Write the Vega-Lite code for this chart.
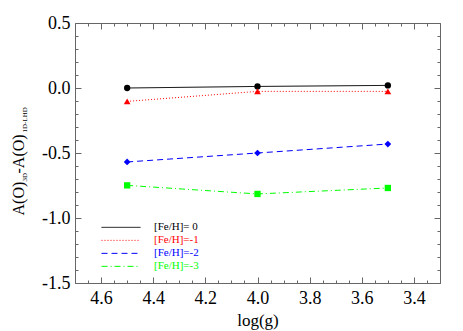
{
  "$schema": "https://vega.github.io/schema/vega-lite/v6.json",
  "width": 365,
  "height": 260,
  "autosize": {"type": "none"},
  "padding": {"left": 75, "top": 23, "right": 23, "bottom": 48},
  "background": "white",
  "config": {
    "view": {"stroke": null},
    "font": "Liberation Serif",
    "axis": {
      "grid": false,
      "domainColor": "#666666",
      "tickColor": "#666666",
      "labelColor": "black",
      "labelFontSize": 18,
      "labelFont": "Liberation Serif",
      "titleFont": "Liberation Serif",
      "titleFontWeight": "normal",
      "titleColor": "black",
      "labelOverlap": false,
      "labelFlush": false,
      "labelBound": false
    }
  },
  "data": {
    "values": [
      {"series": "[Fe/H]= 0", "logg": 4.5, "val": 0.0},
      {"series": "[Fe/H]= 0", "logg": 4.0, "val": 0.012},
      {"series": "[Fe/H]= 0", "logg": 3.5, "val": 0.02},
      {"series": "[Fe/H]=-1", "logg": 4.5, "val": -0.103},
      {"series": "[Fe/H]=-1", "logg": 4.0, "val": -0.026},
      {"series": "[Fe/H]=-1", "logg": 3.5, "val": -0.026},
      {"series": "[Fe/H]=-2", "logg": 4.5, "val": -0.569},
      {"series": "[Fe/H]=-2", "logg": 4.0, "val": -0.5},
      {"series": "[Fe/H]=-2", "logg": 3.5, "val": -0.431},
      {"series": "[Fe/H]=-3", "logg": 4.5, "val": -0.749},
      {"series": "[Fe/H]=-3", "logg": 4.0, "val": -0.815},
      {"series": "[Fe/H]=-3", "logg": 3.5, "val": -0.769}
    ]
  },
  "layer": [
    {
      "mark": {"type": "line", "strokeWidth": 1},
      "encoding": {
        "x": {
          "field": "logg", "type": "quantitative",
          "scale": {"domain": [3.3, 4.7], "reverse": true, "zero": false, "nice": false},
          "axis": {
            "orient": "bottom",
            "title": "log(g)",
            "titleFontSize": 17,
            "titlePadding": 2,
            "values": [3.3,3.35,3.4,3.45,3.5,3.55,3.6,3.65,3.7,3.75,3.8,3.85,3.9,3.95,4.0,4.05,4.1,4.15,4.2,4.25,4.3,4.35,4.4,4.45,4.5,4.55,4.6,4.65,4.7],
            "tickSize": {"condition": {"test": "abs(datum.value*5-round(datum.value*5))<0.001", "value": -6}, "value": -3},
            "labelPadding": 12,
            "labelExpr": "abs(datum.value*5-round(datum.value*5))<0.001 ? format(datum.value,'.1f') : ''"
          }
        },
        "y": {
          "field": "val", "type": "quantitative",
          "scale": {"domain": [-1.5, 0.5], "zero": false, "nice": false},
          "axis": {
            "orient": "left",
            "title": "A(O)",
            "titleFontSize": 16,
            "titleAngle": 270,
            "titleAlign": "left",
            "titleBaseline": "alphabetic",
            "titleX": -52,
            "titleY": 192,
            "values": [-1.5,-1.4,-1.3,-1.2,-1.1,-1.0,-0.9,-0.8,-0.7,-0.6,-0.5,-0.4,-0.3,-0.2,-0.1,0.0,0.1,0.2,0.3,0.4,0.5],
            "tickSize": {"condition": {"test": "abs(datum.value*2-round(datum.value*2))<0.001", "value": -6}, "value": -3},
            "labelPadding": 11,
            "labelExpr": "abs(datum.value*2-round(datum.value*2))<0.001 ? replace(format(datum.value,'.1f'),'\u2212','-') : ''"
          }
        },
        "color": {
          "field": "series", "type": "nominal",
          "scale": {
            "domain": ["[Fe/H]= 0", "[Fe/H]=-1", "[Fe/H]=-2", "[Fe/H]=-3"],
            "range": ["#000000", "#ff0000", "#0000ff", "#00ff00"]
          },
          "legend": {
            "orient": "none",
            "legendX": 26,
            "legendY": 198,
            "title": null,
            "symbolType": "stroke",
            "symbolSize": 1521,
            "symbolStrokeWidth": 1,
            "clipHeight": 12.7,
            "rowPadding": 0,
            "labelFont": "Liberation Serif",
            "labelFontSize": 11,
            "labelOffset": 13,
            "encode": {"labels": {"update": {"fill": {"scale": "color", "field": "value"}}}}
          }
        },
        "strokeDash": {
          "field": "series", "type": "nominal",
          "scale": {
            "domain": ["[Fe/H]= 0", "[Fe/H]=-1", "[Fe/H]=-2", "[Fe/H]=-3"],
            "range": [[1, 0], [1, 2], [6, 4], [6, 3, 1, 3]]
          },
          "legend": {
            "orient": "none",
            "legendX": 26,
            "legendY": 198,
            "title": null
          }
        }
      }
    },
    {
      "transform": [{"filter": "datum.series == '[Fe/H]= 0'"}],
      "mark": {"type": "point", "filled": true, "shape": "circle", "size": 40, "color": "#000000", "opacity": 1},
      "encoding": {
        "x": {
          "field": "logg", "type": "quantitative",
          "scale": {"domain": [3.3, 4.7], "reverse": true, "zero": false, "nice": false},
          "axis": {
            "orient": "top",
            "title": null,
            "labels": false,
            "values": [3.3,3.35,3.4,3.45,3.5,3.55,3.6,3.65,3.7,3.75,3.8,3.85,3.9,3.95,4.0,4.05,4.1,4.15,4.2,4.25,4.3,4.35,4.4,4.45,4.5,4.55,4.6,4.65,4.7],
            "tickSize": {"condition": {"test": "abs(datum.value*5-round(datum.value*5))<0.001", "value": -6}, "value": -3}
          }
        },
        "y": {
          "field": "val", "type": "quantitative",
          "scale": {"domain": [-1.5, 0.5], "zero": false, "nice": false},
          "axis": {
            "orient": "right",
            "title": null,
            "labels": false,
            "values": [-1.5,-1.4,-1.3,-1.2,-1.1,-1.0,-0.9,-0.8,-0.7,-0.6,-0.5,-0.4,-0.3,-0.2,-0.1,0.0,0.1,0.2,0.3,0.4,0.5],
            "tickSize": {"condition": {"test": "abs(datum.value*2-round(datum.value*2))<0.001", "value": -6}, "value": -3}
          }
        }
      }
    },
    {
      "transform": [{"filter": "datum.series == '[Fe/H]=-1'"}],
      "mark": {"type": "point", "filled": true, "shape": "triangle-up", "size": 45, "color": "#ff0000", "opacity": 1},
      "encoding": {
        "x": {
          "field": "logg", "type": "quantitative",
          "scale": {"domain": [3.3, 4.7], "reverse": true, "zero": false, "nice": false},
          "axis": null
        },
        "y": {
          "field": "val", "type": "quantitative",
          "scale": {"domain": [-1.5, 0.5], "zero": false, "nice": false},
          "axis": {
            "orient": "left",
            "title": "3D",
            "labels": false, "ticks": false, "domain": false,
            "titleFontSize": 7,
            "titleAngle": 270,
            "titleAlign": "left",
            "titleBaseline": "alphabetic",
            "titleX": -49,
            "titleY": 158
          }
        }
      }
    },
    {
      "transform": [{"filter": "datum.series == '[Fe/H]=-2'"}],
      "mark": {"type": "point", "filled": true, "shape": "diamond", "size": 45, "color": "#0000ff", "opacity": 1},
      "encoding": {
        "x": {
          "field": "logg", "type": "quantitative",
          "scale": {"domain": [3.3, 4.7], "reverse": true, "zero": false, "nice": false},
          "axis": null
        },
        "y": {
          "field": "val", "type": "quantitative",
          "scale": {"domain": [-1.5, 0.5], "zero": false, "nice": false},
          "axis": {
            "orient": "left",
            "title": "-A(O)",
            "labels": false, "ticks": false, "domain": false,
            "titleFontSize": 16,
            "titleAngle": 270,
            "titleAlign": "left",
            "titleBaseline": "alphabetic",
            "titleX": -52,
            "titleY": 150
          }
        }
      }
    },
    {
      "transform": [{"filter": "datum.series == '[Fe/H]=-3'"}],
      "mark": {"type": "point", "filled": true, "shape": "square", "size": 40, "color": "#00ff00", "opacity": 1},
      "encoding": {
        "x": {
          "field": "logg", "type": "quantitative",
          "scale": {"domain": [3.3, 4.7], "reverse": true, "zero": false, "nice": false},
          "axis": null
        },
        "y": {
          "field": "val", "type": "quantitative",
          "scale": {"domain": [-1.5, 0.5], "zero": false, "nice": false},
          "axis": {
            "orient": "left",
            "title": "1D-LHD",
            "labels": false, "ticks": false, "domain": false,
            "titleFontSize": 7,
            "titleAngle": 270,
            "titleAlign": "left",
            "titleBaseline": "alphabetic",
            "titleX": -49,
            "titleY": 109
          }
        }
      }
    }
  ],
  "resolve": {"axis": {"x": "independent", "y": "independent"}}
}
